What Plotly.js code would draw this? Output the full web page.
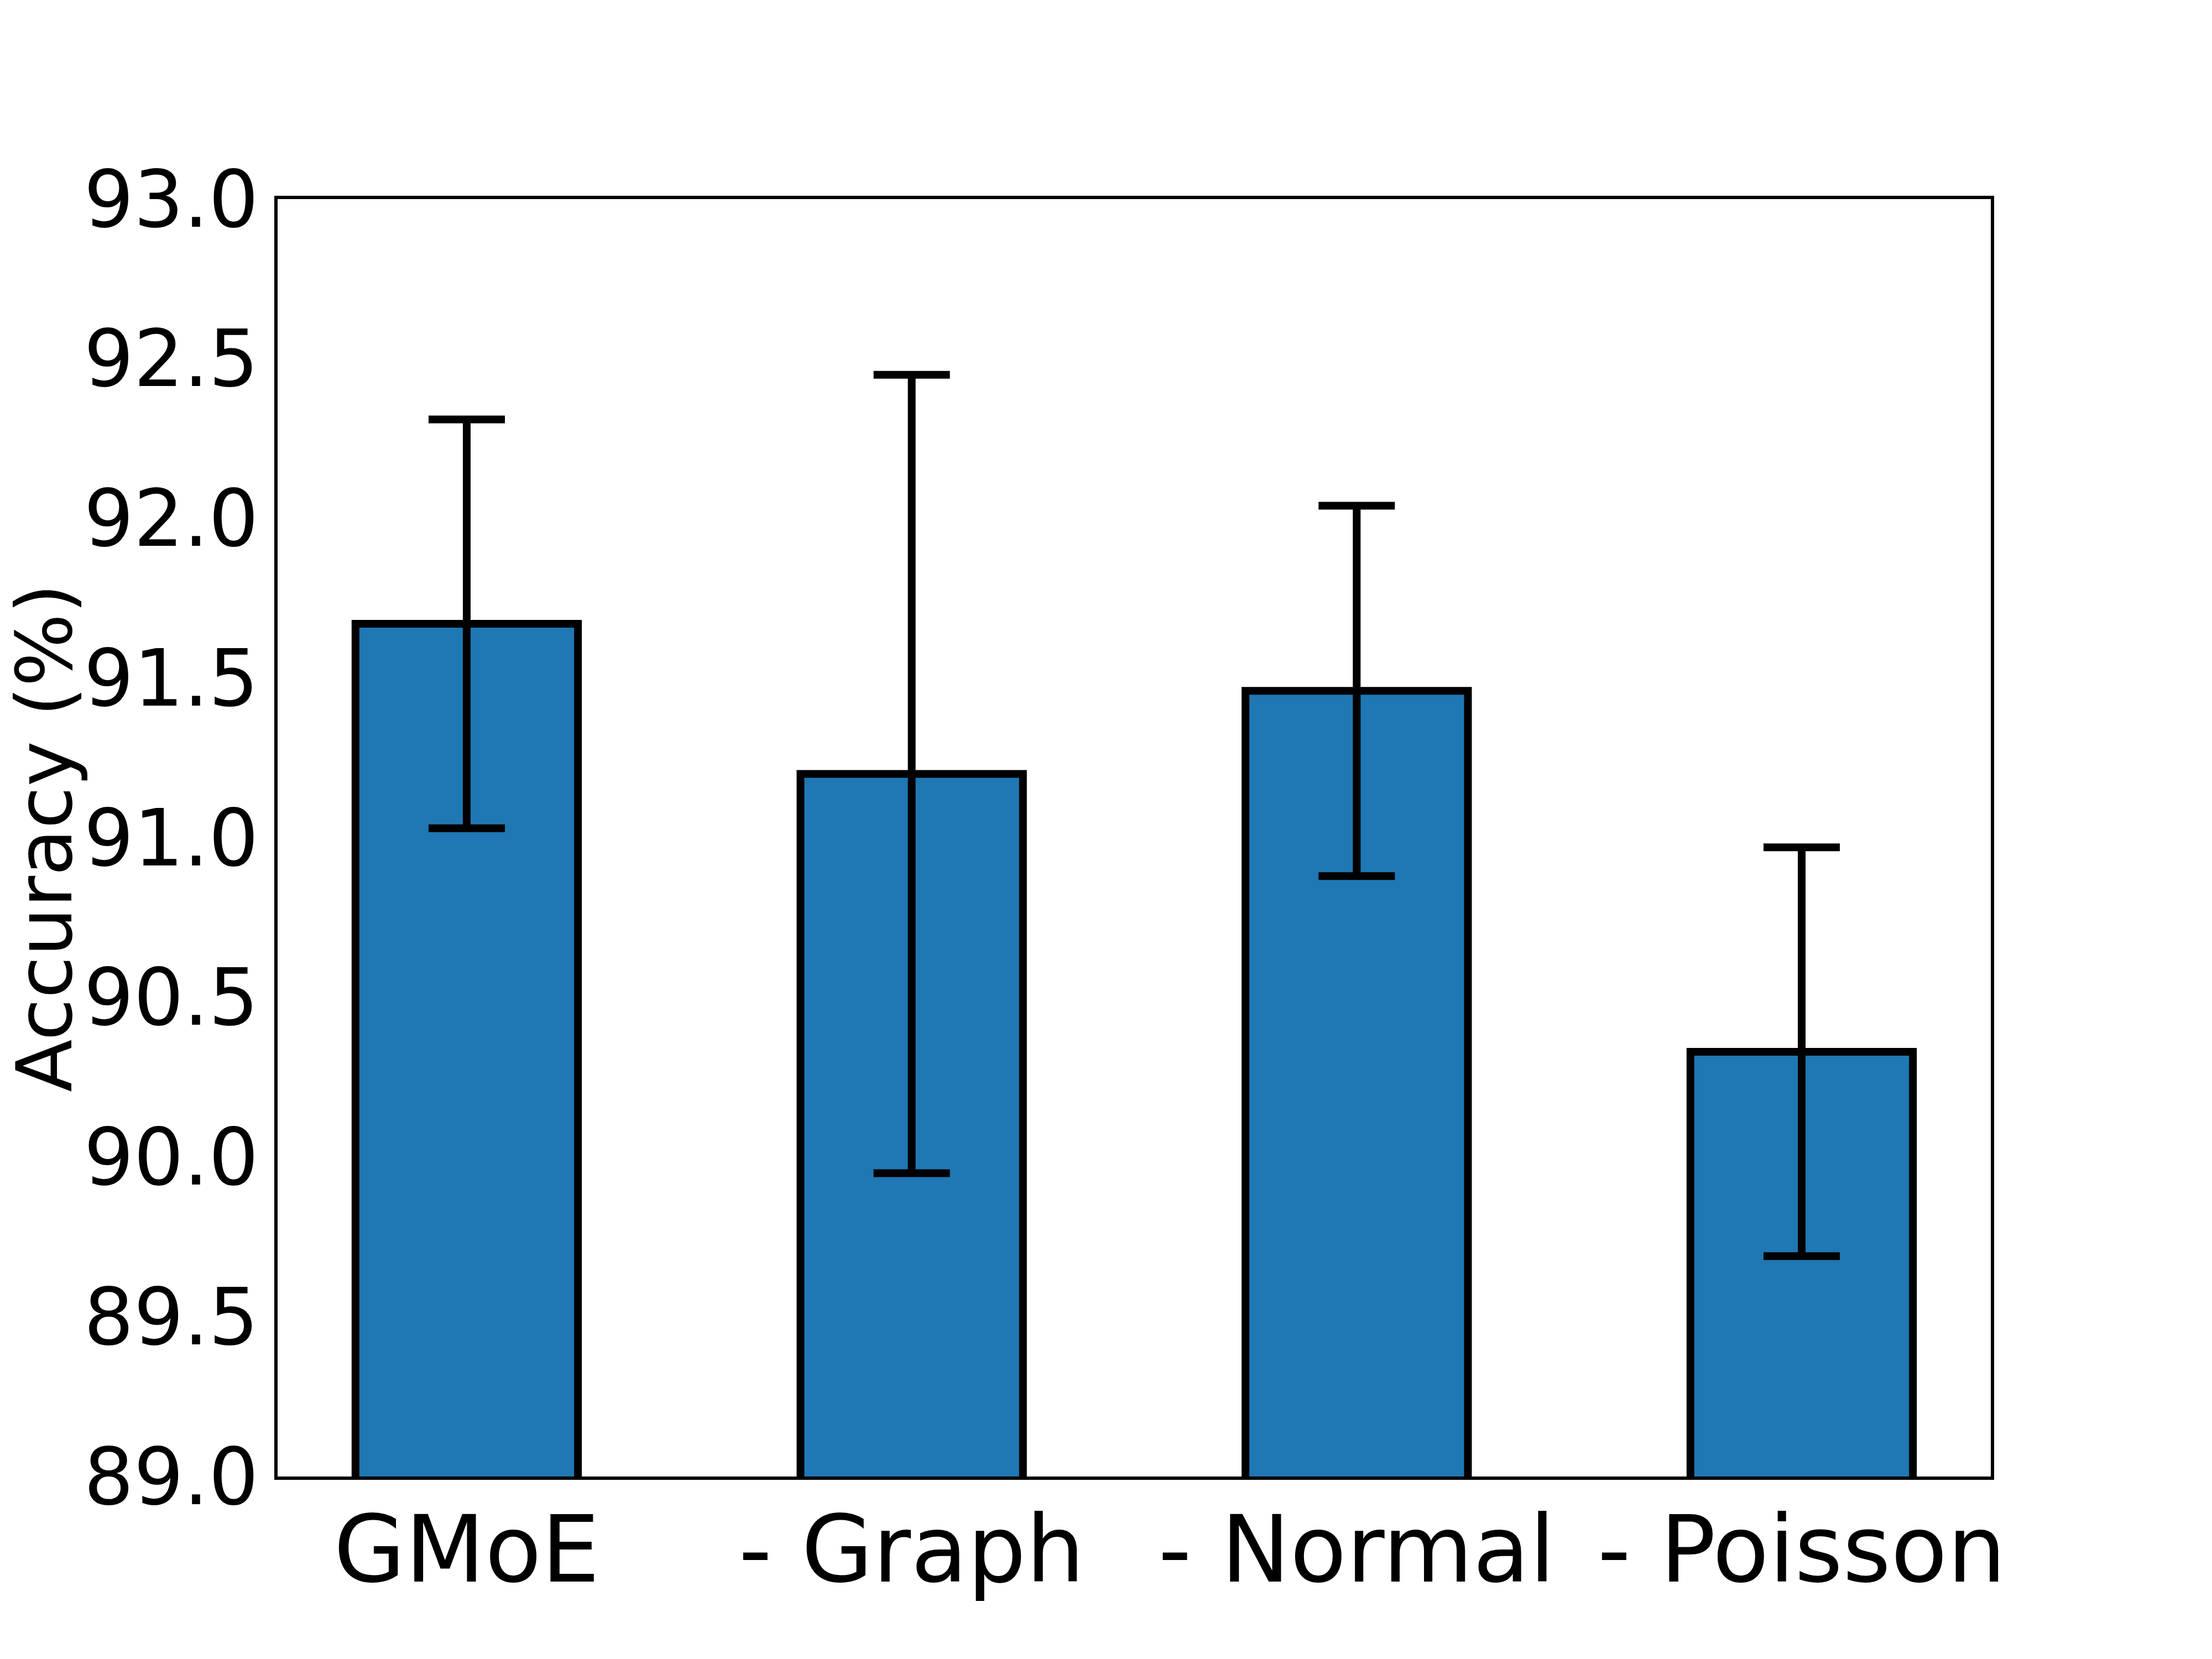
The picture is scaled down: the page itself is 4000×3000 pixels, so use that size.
<!DOCTYPE html>
<html>
<head>
<meta charset="utf-8">
<script src="https://cdn.plot.ly/plotly-3.0.1.min.js"></script>
<style>html,body{margin:0;padding:0;background:#fff;}#chart{width:4000px;height:3000px;}</style>
</head>
<body>
<div id="chart"></div>
<script>
const categories = ["GMoE", "- Graph", "- Normal", "- Poisson"];
const accuracy = [91.67, 91.20, 91.46, 90.33];
const errors = [0.64, 1.25, 0.58, 0.64];
const yTicks = [89.0, 89.5, 90.0, 90.5, 91.0, 91.5, 92.0, 92.5, 93.0];

const xIdx = categories.map((_, i) => i);

const trace = {
  type: "bar",
  x: xIdx,
  y: accuracy,
  width: 0.5,
  marker: { color: "#1f77b4", line: { color: "#000000", width: 14 } },
  error_y: { type: "data", array: errors, visible: true, color: "#000000", thickness: 14, width: 69 },
  hoverinfo: "skip"
};

const layout = {
  width: 4000, height: 3000,
  margin: { l: 502, r: 400, t: 360, b: 330, pad: 0 },
  paper_bgcolor: "#ffffff", plot_bgcolor: "#ffffff",
  showlegend: false,
  font: { family: "DejaVu Sans, sans-serif", color: "#000000" },
  xaxis: {
    range: [-0.425, 3.425],
    tickmode: "array", tickvals: xIdx, ticktext: categories,
    tickfont: { size: 167, family: "DejaVu Sans" },
    showline: true, mirror: true, linecolor: "#000000", linewidth: 6,
    showgrid: false, zeroline: false,
    ticks: "", ticklabelstandoff: -16,
    automargin: false
  },
  yaxis: {
    range: [89, 93],
    tickmode: "array", tickvals: yTicks, ticktext: yTicks.map(v => v.toFixed(1)),
    tickfont: { size: 142, family: "DejaVu Sans" },
    showline: true, mirror: true, linecolor: "#000000", linewidth: 6,
    showgrid: false, zeroline: false,
    ticks: "",
    title: { text: "Accuracy (%)", font: { size: 139, family: "DejaVu Sans" }, standoff: 73 },
    automargin: false
  }
};

Plotly.newPlot("chart", [trace], layout, { staticPlot: true, displayModeBar: false });
</script>
</body>
</html>
